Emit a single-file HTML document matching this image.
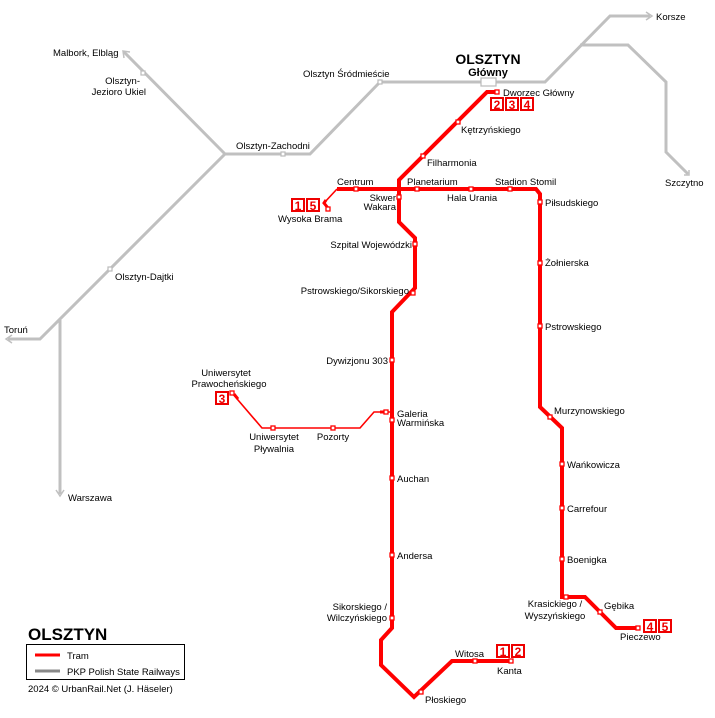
<!DOCTYPE html>
<html><head><meta charset="utf-8"><style>
html,body{margin:0;padding:0;background:#fff;}
svg{display:block;}
text{font-family:"Liberation Sans",sans-serif;font-size:9.5px;fill:#000;}
.b{fill:#fff;stroke:#e00;stroke-width:2;}
.n{fill:#e00;font-weight:bold;font-size:12px;}
.s{fill:#fff;stroke:#f00;stroke-width:1.3;}
.g{fill:#fff;stroke:#bbb;stroke-width:1.2;}
</style></head><body>
<svg width="715" height="718" viewBox="0 0 715 718" xmlns="http://www.w3.org/2000/svg">
<rect width="715" height="718" fill="#fff"/>
<g fill="none" stroke="#c0c0c0" stroke-width="3" stroke-linejoin="miter">
<polyline points="380,82 545,82 610,16 650,16"/>
<polyline points="580,45 628,45 666,82 666,152 688,174"/>
<polyline points="380,82 310,154 225,154 40,339 8,339"/>
<polyline points="225,154 124,52"/>
<polyline points="60,320 60,494"/>
</g>
<g fill="none" stroke="#c0c0c0" stroke-width="1.5">
<polyline points="646,12 652,16 646,20"/>
<polyline points="684,175 689,175 689,170"/>
<polyline points="12,335 6,339 12,343"/>
<polyline points="56,490 60,496 64,490"/>
<polyline points="124,58 123,51 130,52"/>
</g>
<rect x="481" y="78" width="15" height="8" class="g"/>
<rect x="378" y="80" width="4" height="4" class="g"/>
<rect x="281" y="152" width="4" height="4" class="g"/>
<rect x="141" y="71" width="4" height="4" class="g"/>
<rect x="108" y="267" width="4" height="4" class="g"/>
<g fill="none" stroke="#f00" stroke-width="4" stroke-linejoin="miter">
<polyline points="497,92 487,92 399,180 399,222 415,238 415,288 392,312 392,628 381,640 381,665 414,697 452,661 512,661"/>
<polyline points="337,189 536,189 540,194 540,407 562,428 562,597 566,597 585,597 600,612 616,628 638,628"/>
</g>
<g fill="none" stroke="#f00" stroke-width="1.6">
<polyline points="337,189 324,203 328,208"/>
<polyline points="232,393 262,428 360,428 374,412 392,412"/>
</g>
<polyline points="326,200 324,203 328,208" fill="none" stroke="#f00" stroke-width="3"/>
<polyline points="234,394 238,399" fill="none" stroke="#f00" stroke-width="3"/>
<line x1="380" y1="412" x2="388" y2="412" stroke="#f00" stroke-width="3"/>
<g class="s">
<rect x="495" y="90" width="4" height="4"/>
<rect x="456" y="120" width="4" height="4"/>
<rect x="421" y="154" width="4" height="4"/>
<rect x="354" y="187" width="4" height="4"/>
<rect x="397" y="195" width="4" height="4"/>
<rect x="415" y="187" width="4" height="4"/>
<rect x="469" y="187" width="4" height="4"/>
<rect x="508" y="187" width="4" height="4"/>
<rect x="538" y="200" width="4" height="4"/>
<rect x="538" y="261" width="4" height="4"/>
<rect x="538" y="324" width="4" height="4"/>
<rect x="548" y="415" width="4" height="4"/>
<rect x="560" y="462" width="4" height="4"/>
<rect x="560" y="506" width="4" height="4"/>
<rect x="560" y="557" width="4" height="4"/>
<rect x="564" y="595" width="4" height="4"/>
<rect x="598" y="610" width="4" height="4"/>
<rect x="636" y="626" width="4" height="4"/>
<rect x="326" y="207" width="4" height="4"/>
<rect x="413" y="242" width="4" height="4"/>
<rect x="411" y="291" width="4" height="4"/>
<rect x="390" y="358" width="4" height="4"/>
<rect x="384" y="410" width="4" height="4"/>
<rect x="390" y="418" width="4" height="4"/>
<rect x="390" y="476" width="4" height="4"/>
<rect x="390" y="553" width="4" height="4"/>
<rect x="390" y="616" width="4" height="4"/>
<rect x="419" y="690" width="4" height="4"/>
<rect x="473" y="659" width="4" height="4"/>
<rect x="509" y="659" width="4" height="4"/>
<rect x="230" y="391" width="4" height="4"/>
<rect x="271" y="426" width="4" height="4"/>
<rect x="331" y="426" width="4" height="4"/>
</g>
<g>
<rect x="491" y="98" width="12" height="12" class="b"/><text x="497" y="109" text-anchor="middle" class="n">2</text>
<rect x="506" y="98" width="12" height="12" class="b"/><text x="512" y="109" text-anchor="middle" class="n">3</text>
<rect x="521" y="98" width="12" height="12" class="b"/><text x="527" y="109" text-anchor="middle" class="n">4</text>
<rect x="292" y="199" width="12" height="12" class="b"/><text x="298" y="210" text-anchor="middle" class="n">1</text>
<rect x="307" y="199" width="12" height="12" class="b"/><text x="313" y="210" text-anchor="middle" class="n">5</text>
<rect x="216" y="392" width="12" height="12" class="b"/><text x="222" y="403" text-anchor="middle" class="n">3</text>
<rect x="497" y="645" width="12" height="12" class="b"/><text x="503" y="656" text-anchor="middle" class="n">1</text>
<rect x="512" y="645" width="12" height="12" class="b"/><text x="518" y="656" text-anchor="middle" class="n">2</text>
<rect x="644" y="620" width="12" height="12" class="b"/><text x="650" y="631" text-anchor="middle" class="n">4</text>
<rect x="659" y="620" width="12" height="12" class="b"/><text x="665" y="631" text-anchor="middle" class="n">5</text>
</g>
<text x="488" y="64" text-anchor="middle" style="font-size:14px;font-weight:bold">OLSZTYN</text>
<text x="488" y="76" text-anchor="middle" style="font-size:11px;font-weight:bold">Główny</text>
<text x="303" y="77">Olsztyn Śródmieście</text>
<text x="236" y="149">Olsztyn-Zachodni</text>
<text x="53" y="56">Malbork, Elbląg</text>
<text x="140" y="84" text-anchor="end">Olsztyn-</text>
<text x="146" y="95" text-anchor="end">Jezioro Ukiel</text>
<text x="115" y="280">Olsztyn-Dajtki</text>
<text x="4" y="333">Toruń</text>
<text x="68" y="501">Warszawa</text>
<text x="656" y="20">Korsze</text>
<text x="665" y="186">Szczytno</text>
<text x="503" y="96">Dworzec Główny</text>
<text x="461" y="133">Kętrzyńskiego</text>
<text x="427" y="166">Filharmonia</text>
<text x="337" y="185">Centrum</text>
<text x="407" y="185">Planetarium</text>
<text x="495" y="185">Stadion Stomil</text>
<text x="447" y="201">Hala Urania</text>
<text x="396" y="201" text-anchor="end">Skwer</text>
<text x="396" y="210" text-anchor="end">Wakara</text>
<text x="278" y="222">Wysoka Brama</text>
<text x="545" y="206">Piłsudskiego</text>
<text x="545" y="266">Żołnierska</text>
<text x="545" y="330">Pstrowskiego</text>
<text x="554" y="414">Murzynowskiego</text>
<text x="567" y="468">Wańkowicza</text>
<text x="567" y="512">Carrefour</text>
<text x="567" y="563">Boenigka</text>
<text x="604" y="609">Gębika</text>
<text x="620" y="640">Pieczewo</text>
<text x="555" y="607" text-anchor="middle">Krasickiego /</text>
<text x="555" y="619" text-anchor="middle">Wyszyńskiego</text>
<text x="412" y="248" text-anchor="end">Szpital Wojewódzki</text>
<text x="409" y="294" text-anchor="end">Pstrowskiego/Sikorskiego</text>
<text x="388" y="364" text-anchor="end">Dywizjonu 303</text>
<text x="397" y="417">Galeria</text>
<text x="397" y="426">Warmińska</text>
<text x="397" y="482">Auchan</text>
<text x="397" y="559">Andersa</text>
<text x="387" y="610" text-anchor="end">Sikorskiego /</text>
<text x="387" y="621" text-anchor="end">Wilczyńskiego</text>
<text x="425" y="703">Płoskiego</text>
<text x="455" y="657">Witosa</text>
<text x="497" y="674">Kanta</text>
<text x="226" y="376" text-anchor="middle">Uniwersytet</text>
<text x="229" y="387" text-anchor="middle">Prawocheńskiego</text>
<text x="274" y="440" text-anchor="middle">Uniwersytet</text>
<text x="274" y="452" text-anchor="middle">Pływalnia</text>
<text x="333" y="440" text-anchor="middle">Pozorty</text>
<text x="28" y="640" style="font-size:17px;font-weight:bold">OLSZTYN</text>
<rect x="26.5" y="644.5" width="158" height="35" fill="none" stroke="#000" stroke-width="1"/>
<line x1="35" y1="655" x2="60" y2="655" stroke="#f00" stroke-width="3"/>
<text x="67" y="659">Tram</text>
<line x1="35" y1="671" x2="60" y2="671" stroke="#888" stroke-width="3"/>
<text x="67" y="675">PKP Polish State Railways</text>
<text x="28" y="692">2024 © UrbanRail.Net (J. Häseler)</text>
</svg>
</body></html>
